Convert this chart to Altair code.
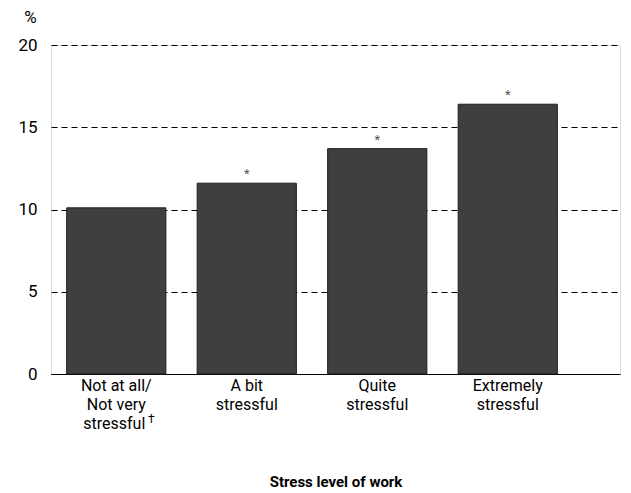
import altair as alt
import pandas as pd

NB = "\u00a0"
ZW = "\u200b"
categories = ["Not at all/\nNot very\nstressful" + NB + ZW, "A bit\nstressful", "Quite\nstressful", "Extremely\nstressful"]
values = [10.1, 11.6, 13.7, 16.4]
significance = ["", "*", "*", "*"]
y_ticks = [0, 5, 10, 15, 20]

FONT = "Roboto"

df = pd.DataFrame({"cat": categories, "value": values, "sig": significance})
order = categories

x_enc = alt.X(
    "cat:N",
    sort=order,
    scale=alt.Scale(paddingInner=0.24, paddingOuter=0.3, align=0.2),
    axis=alt.Axis(
        title="Stress level of work",
        titleFont="Roboto",
        titleFontSize=15,
        titleFontWeight="bold",
        titleColor="black",
        titleBaseline="middle",
        titleY=107,
        labelExpr="split(datum.label, '\\n')",
        labelFont=FONT,
        labelFontSize=16,
        labelColor="black",
        labelLineHeight=19,
        labelBaseline="top",
        labelPadding=3,
        labelAngle=0,
        ticks=False,
        domain=True,
        domainColor="black",
        domainWidth=1,
        grid=False,
    ),
)

y_enc = alt.Y(
    "value:Q",
    scale=alt.Scale(domain=[0, 20], nice=False),
    axis=alt.Axis(
        title="%",
        titleAngle=0,
        titleX=-21,
        titleY=-28,
        titleAlign="center",
        titleBaseline="middle",
        titleFont=FONT,
        titleFontSize=17,
        titleFontWeight="normal",
        titleColor="black",
        values=y_ticks,
        labelFont=FONT,
        labelFontSize=17,
        labelColor="black",
        labelPadding=14,
        ticks=False,
        domain=False,
        grid=True,
        gridColor="black",
        gridDash=[6, 4],
        gridWidth=1,
    ),
)

bars = alt.Chart(df).mark_bar(color="#3f3f3f", stroke="#1c1c1c", strokeWidth=1).encode(
    x=x_enc, y=y_enc
)

stars = alt.Chart(df).mark_text(
    font=FONT, fontSize=13, color="#555555", baseline="alphabetic", dy=-5
).encode(
    x=alt.X("cat:N", sort=order),
    y=alt.Y("value:Q"),
    text="sig:N",
)

dagger_df = pd.DataFrame({"cat": [categories[0]], "mark": ["\u2020"]})
dagger = alt.Chart(dagger_df).mark_text(
    font=FONT, fontSize=12, color="black", dx=35, baseline="middle"
).encode(
    x=alt.X("cat:N", sort=order),
    y=alt.value(374),
    text="mark:N",
)

chart = (
    alt.layer(bars, stars, dagger)
    .properties(
        width=569,
        height=329,
        autosize=alt.AutoSizeParams(type="none"),
        padding={"left": 43, "top": 37, "right": 3, "bottom": 116},
    )
    .configure_view(stroke=None)
    .configure(background="white")
)

chart.save("out.html", embed_options={"renderer": "svg", "actions": False})
